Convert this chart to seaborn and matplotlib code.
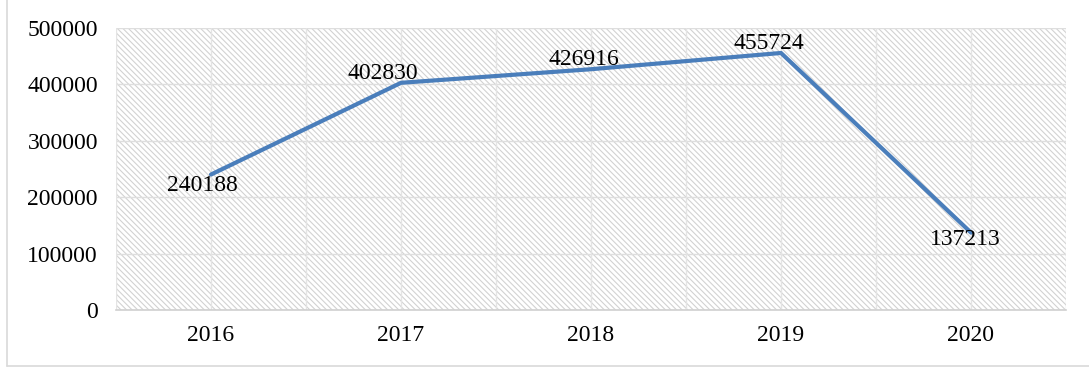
import matplotlib
matplotlib.use("Agg")
import matplotlib.pyplot as plt
import seaborn as sns
import pandas as pd
from matplotlib.patches import Rectangle
from matplotlib.lines import Line2D

years = ["2016", "2017", "2018", "2019", "2020"]
values = [240188, 402830, 426916, 455724, 137213]
y_ticks = [0, 100000, 200000, 300000, 400000, 500000]
label_offsets = [(-6, -8), (-13, 7), (-5, 7), (-9, 7), (-4, -5)]

sns.set_theme(style="white")
plt.rcParams['font.family'] = ['Liberation Serif', 'DejaVu Serif']
plt.rcParams['hatch.linewidth'] = 0.8
plt.rcParams['hatch.color'] = '#d2d2d2'

df = pd.DataFrame({"year": years, "value": values})

fig = plt.figure(figsize=(10.89, 3.68), dpi=100)
ax = fig.add_axes([116/1089, 58/368, 950/1089, 282/368])

# hatched plot background
ax.add_patch(Rectangle((0, 0), 1, 1, transform=ax.transAxes, facecolor='white',
                       edgecolor='#d2d2d2', hatch='\\\\\\\\\\\\', linewidth=0, zorder=0))

sns.lineplot(data=df, x="year", y="value", ax=ax, color='#4a7ebb', linewidth=3.0,
             sort=False, zorder=3)

ax.set_xlim(-0.5, 4.5)
ax.set_ylim(0, 500000)
ax.set_yticks(y_ticks)
ax.set_yticklabels([str(t) for t in y_ticks])
ax.set_xlabel("")
ax.set_ylabel("")

# grid lines
for t in y_ticks:
    ax.axhline(t, color='#dedede', linewidth=1.0, zorder=1)
for i in range(len(years) * 2 + 1):
    ax.axvline(-0.5 + i * 0.5, color='#e4e4e4', linewidth=1.0, zorder=1)

for s in ax.spines.values():
    s.set_visible(False)
ax.spines['bottom'].set_visible(True)
ax.spines['bottom'].set_color('#d0d0d0')
ax.spines['bottom'].set_linewidth(1.2)

ax.tick_params(axis='both', length=0, labelsize=17, colors='black')
ax.tick_params(axis='y', pad=13)
ax.tick_params(axis='x', pad=11)

for i, (v, off) in enumerate(zip(values, label_offsets)):
    ax.annotate(str(v), xy=(i, v), xytext=off, textcoords='offset points',
                ha='center', va='center', fontsize=17, color='black', zorder=5)

# outer chart border (left and bottom visible)
fig.add_artist(Line2D([7/1089, 7/1089], [2/368, 1.0], transform=fig.transFigure,
                      color='#d9d9d9', linewidth=1.2))
fig.add_artist(Line2D([7/1089, 1.0], [2/368, 2/368], transform=fig.transFigure,
                      color='#d9d9d9', linewidth=1.2))

fig.savefig("out.png", dpi=100)
